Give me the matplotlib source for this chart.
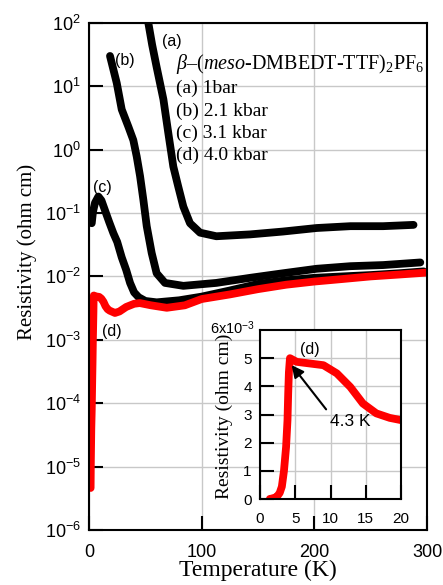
import matplotlib
matplotlib.use('Agg')
import matplotlib.pyplot as plt
from matplotlib.ticker import LogLocator, NullLocator, FixedLocator

# Resistivity vs temperature, beta-(meso-DMBEDT-TTF)2PF6 under pressure
t_a = [52.6, 56, 60, 66, 70.4, 74.8, 79.2, 83.7, 89.6, 98.5, 113, 143, 172, 202, 232, 261, 288]
rho_a = [100, 45, 20, 6.2, 1.8, 0.54, 0.26, 0.126, 0.069, 0.049, 0.043, 0.046, 0.051, 0.058,
         0.062, 0.062, 0.065]

t_b = [18.6, 24.6, 29, 34.9, 39.3, 42.3, 45.3, 48.2, 51.2, 55.6, 60, 67.4, 83.7, 113, 143,
       172, 202, 232, 261, 294]
rho_b = [30, 11.2, 4.3, 2.3, 1.41, 0.78, 0.38, 0.162, 0.062, 0.0234, 0.0112, 0.0079, 0.0071,
         0.0079, 0.0095, 0.0112, 0.0132, 0.0145, 0.0151, 0.0166]

t_c = [2.4, 3.5, 5.3, 8.3, 11, 14, 18, 21.6, 25, 29, 33, 36.4, 40, 44, 50, 60, 80, 100, 125,
       150, 175, 200, 225, 250, 275, 297]
rho_c = [0.069, 0.105, 0.145, 0.182, 0.158, 0.112, 0.071, 0.048, 0.035, 0.020, 0.0126, 0.0079,
         0.0056, 0.0047, 0.0041, 0.0039, 0.0042, 0.0048, 0.0060, 0.0076, 0.0087, 0.0095,
         0.0100, 0.0105, 0.0112, 0.0120]

t_d = [1.4, 1.6, 2.0, 2.4, 2.8, 3.1, 3.4, 3.7, 3.9, 4.0, 4.1, 4.25, 5.2, 7.1, 9.0, 10.9, 12.8,
       14.6, 16.5, 18.4, 20, 23, 27, 33, 40, 45, 55, 69, 85, 100, 125, 150, 175, 200, 225,
       250, 275, 300]
rho_d = [4.6e-6, 1.2e-5, 4e-5, 8e-5, 2.2e-4, 4.4e-4, 1.0e-3, 1.85e-3, 2.8e-3, 3.75e-3, 4.5e-3,
         5.0e-3, 4.87e-3, 4.81e-3, 4.75e-3, 4.46e-3, 3.98e-3, 3.39e-3, 3.04e-3, 2.88e-3, 2.8e-3,
         2.65e-3, 2.8e-3, 3.3e-3, 3.7e-3, 3.8e-3, 3.5e-3, 3.2e-3, 3.5e-3, 4.4e-3, 5.2e-3,
         6.3e-3, 7.4e-3, 8.3e-3, 9.1e-3, 1.0e-2, 1.07e-2, 1.15e-2]

pressures = ['(a) 1bar', '(b) 2.1 kbar', '(c) 3.1 kbar', '(d) 4.0 kbar']
tc_label = '4.3 K'

plt.rcParams['mathtext.fontset'] = 'custom'
plt.rcParams['mathtext.rm'] = 'Liberation Serif'
plt.rcParams['mathtext.it'] = 'Liberation Serif:italic'
plt.rcParams['mathtext.bf'] = 'Liberation Serif:bold'

SANS = 'Liberation Sans'
SERIF = 'Liberation Serif'
GRID = '#c8c8c8'

fig = plt.figure(figsize=(4.43, 5.85), dpi=100)
ax = fig.add_axes([0.201, 0.094, 0.763, 0.867])

line_kw = dict(lw=5.6, solid_capstyle='round', solid_joinstyle='round')
ax.plot(t_a, rho_a, color='black', **line_kw)
ax.plot(t_b, rho_b, color='black', **line_kw)
ax.plot(t_c, rho_c, color='black', **line_kw)
ax.plot(t_d, rho_d, color='#ff0000', **line_kw)

ax.set_yscale('log')
ax.set_xlim(0, 300)
ax.set_ylim(1e-6, 1e2)
ax.xaxis.set_major_locator(FixedLocator([0, 100, 200, 300]))
ax.yaxis.set_major_locator(LogLocator(base=10, numticks=20))
ax.yaxis.set_minor_locator(NullLocator())
ax.grid(True, color=GRID, lw=1)
ax.set_axisbelow(True)
for s in ax.spines.values():
    s.set_linewidth(1.5)
ax.tick_params(direction='in', length=10, width=1.5, labelsize=13)
ax.tick_params(axis='x', pad=10)
ax.tick_params(axis='y', pad=6)
for lab in ax.get_xticklabels() + ax.get_yticklabels():
    lab.set_fontfamily(SANS)

ax.set_xlabel('Temperature (K)', fontfamily=SERIF, fontsize=17)
ax.xaxis.set_label_coords(0.5, -0.058)
ax.set_ylabel('Resistivity (ohm cm)', fontfamily=SERIF, fontsize=15)
ax.yaxis.set_label_coords(-0.154, 0.548)

ax.text(0.257, 0.918, r'$\beta$–($\mathit{meso}$-DMBEDT-TTF)$_2$PF$_6$',
        transform=ax.transAxes, fontfamily=SERIF, fontsize=14.5, va='center')
for i, p in enumerate(pressures):
    ax.text(0.257, 0.870 - i * 0.044, p, transform=ax.transAxes,
            fontfamily=SERIF, fontsize=14, va='center')

curve_labels = [('(a)', 0.245, 0.964), ('(b)', 0.107, 0.925),
                ('(c)', 0.038, 0.676), ('(d)', 0.068, 0.392)]
for txt, x, y in curve_labels:
    ax.text(x, y, txt, transform=ax.transAxes, fontfamily=SANS, fontsize=11.5,
            ha='center', va='center')

# inset: superconducting transition on a linear scale
axin = fig.add_axes([0.5869, 0.147, 0.3183, 0.2889])
axin.set_facecolor('white')
n = sum(1 for t in t_d if t <= 20)
axin.plot(t_d[:n], [r * 1e3 for r in rho_d[:n]], color='#ff0000', **line_kw)
axin.set_xlim(0, 20)
axin.set_ylim(0, 6)
axin.set_xticks([0, 5, 10, 15, 20])
axin.set_yticks([0, 1, 2, 3, 4, 5])
axin.grid(True, color=GRID, lw=1)
axin.set_axisbelow(True)
for s in axin.spines.values():
    s.set_linewidth(1.5)
axin.tick_params(direction='in', length=10, width=1.5, labelsize=11)
axin.tick_params(axis='x', pad=9)
axin.tick_params(axis='y', pad=6)
for lab in axin.get_xticklabels() + axin.get_yticklabels():
    lab.set_fontfamily(SANS)
axin.set_ylabel('Resistivity (ohm cm)', fontfamily=SERIF, fontsize=14)
axin.yaxis.set_label_coords(-0.19, 0.49)
axin.text(-0.035, 0.958, r'6x10$^{\mathdefault{-3}}$', transform=axin.transAxes,
          fontfamily=SANS, fontsize=10.5, ha='right', va='bottom')
axin.text(7.1, 5.3, '(d)', fontfamily=SANS, fontsize=11.5, ha='center', va='center')
axin.annotate(tc_label, xy=(4.5, 4.75), xytext=(12.8, 2.74), fontfamily=SANS, fontsize=12.5,
              ha='center', va='center',
              arrowprops=dict(arrowstyle='-|>', color='black', lw=1.5, mutation_scale=18,
                              shrinkA=2, shrinkB=0, relpos=(0.0, 1.0)))

fig.savefig('out.png', dpi=100)
